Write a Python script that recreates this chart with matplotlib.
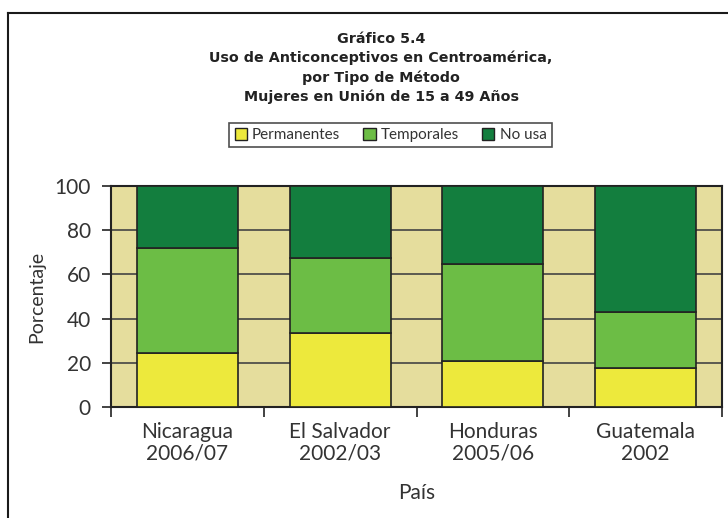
import matplotlib.pyplot as plt
import numpy as np
from matplotlib.lines import Line2D
from matplotlib.patches import Patch

# Data
paises = ['Nicaragua\n2006/07', 'El Salvador\n2002/03', 'Honduras\n2005/06', 'Guatemala\n2002']
permanentes = [24.4, 33.3, 20.8, 17.8]
temporales = [47.7, 34.0, 44.1, 25.0]
no_usa = [27.9, 32.7, 35.1, 57.2]

col_perm = '#EDE93C'
col_temp = '#6CBD45'
col_no = '#137E3E'
fondo = '#E5DD9D'
txt = '#333333'

plt.rcParams['font.family'] = ['Lato', 'DejaVu Sans']

fig = plt.figure(figsize=(7.28, 5.18), dpi=100)
ax = fig.add_axes([0.1525, 0.2143, 0.8393, 0.4267])
ax.set_facecolor(fondo)

x = np.arange(len(paises))
w = 0.66
ax.bar(x, permanentes, w, color=col_perm, edgecolor='#222222', linewidth=1.2, zorder=3)
ax.bar(x, temporales, w, bottom=permanentes, color=col_temp, edgecolor='#222222', linewidth=1.2, zorder=3)
base2 = np.array(permanentes) + np.array(temporales)
ax.bar(x, no_usa, w, bottom=base2, color=col_no, edgecolor='#222222', linewidth=1.2, zorder=3)

ax.set_xlim(-0.5, len(paises) - 0.5)
ax.set_ylim(0, 100)
ax.set_yticks([0, 20, 40, 60, 80, 100])
ax.yaxis.grid(True, color='#444444', linewidth=1.2, zorder=1)
ax.set_axisbelow(True)

# category labels centred, tick marks on the boundaries
ax.set_xticks(np.arange(-0.5, len(paises)), minor=False)
ax.set_xticklabels([])
ax.set_xticks(x, minor=True)
ax.set_xticklabels(paises, minor=True, fontsize=15, color=txt, linespacing=1.1)
ax.tick_params(axis='x', which='minor', length=0, pad=11)
ax.tick_params(axis='x', which='major', length=7, width=1.2, color='#222222')
ax.tick_params(axis='y', length=6.5, width=1.2, color='#222222', labelsize=15, labelcolor=txt, pad=8)

for s in ax.spines.values():
    s.set_color('#222222')
    s.set_linewidth(1.5)

ax.set_ylabel('Porcentaje', fontsize=14, color=txt, labelpad=7)
ax.set_xlabel('País', fontsize=15, color=txt, labelpad=14)

# Title
titulo = ['Gráfico 5.4', 'Uso de Anticonceptivos en Centroamérica,',
          'por Tipo de Método', 'Mujeres en Unión de 15 a 49 Años']
for i, t in enumerate(titulo):
    fig.text(381 / 728, 1 - (39 + 19.2 * i) / 518, t, ha='center', va='center',
             fontsize=10.3, fontweight='bold', color='#222222', family='DejaVu Sans')

# Legend
handles = [Patch(facecolor=col_perm, edgecolor='#222222'),
           Patch(facecolor=col_temp, edgecolor='#222222'),
           Patch(facecolor=col_no, edgecolor='#222222')]
leg = fig.legend(handles, ['Permanentes', 'Temporales', 'No usa'], loc='center',
                 bbox_to_anchor=(390.5 / 728, 1 - 135 / 518), ncol=3, fontsize=11,
                 frameon=True, fancybox=False, handlelength=0.8, handleheight=0.8,
                 handletextpad=0.35, columnspacing=1.5, borderpad=0.35)
leg.get_frame().set_edgecolor('#222222')
leg.get_frame().set_linewidth(1.2)
for t in leg.get_texts():
    t.set_color(txt)

# outer frame (left and top edges visible)
fig.add_artist(Line2D([8 / 728, 8 / 728], [0, 1 - 13 / 518], transform=fig.transFigure,
                      color='#1a1a1a', linewidth=1.5))
fig.add_artist(Line2D([8 / 728, 1], [1 - 13 / 518, 1 - 13 / 518], transform=fig.transFigure,
                      color='#1a1a1a', linewidth=1.5))

fig.savefig('out.png', dpi=100)
